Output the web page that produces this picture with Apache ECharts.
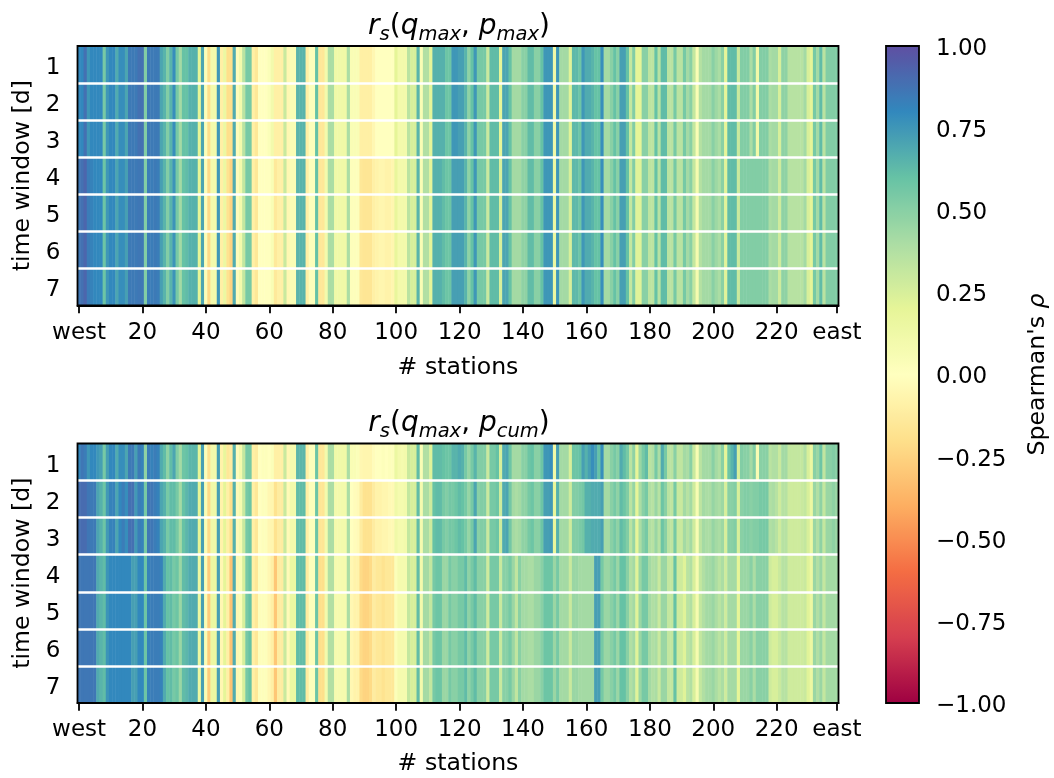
<!DOCTYPE html>
<html><head><meta charset="utf-8">
<script src="https://cdn.jsdelivr.net/npm/echarts@6/dist/echarts.min.js"></script>
<style>html,body{margin:0;padding:0;background:#fff}#c{width:1054px;height:778px}</style>
</head><body><div id="c"></div>
<script>
const timeWindows = ['1','2','3','4','5','6','7'];
const tickStations = ['west','20','40','60','80','100','120','140','160','180','200','220','east'];
const colorStops = ['#9e0142','#d53e4f','#f46d43','#fdae61','#fee08b','#ffffbf','#e6f598','#abdda4','#66c2a5','#3288bd','#5e4fa2'];

// upper panel, windows 1-3
const topEarly = [
.8,.8,.88,.75,.8,.8,.8,.8,.55,.75,
.8,.8,.68,.78,.78,.7,.85,.85,.85,.88,
.88,.52,.85,.85,.85,.85,.7,.65,.52,.65,
.78,.55,.42,.6,.6,.66,.66,.66,.2,.7,
.03,-.2,.1,.1,.75,-.1,.15,-.2,-.2,.68,
-.02,.1,.35,.55,.55,-.1,-.15,0,0,0,
.03,.1,-.1,-.1,-.1,.3,-.05,.05,.05,.65,
.65,.65,-.1,.02,.02,.6,-.15,-.15,.1,.4,
.4,.12,.12,.12,.12,.4,.05,.05,.05,-.1,
-.1,-.1,-.1,-.05,0,0,0,0,0,0,
.2,.1,.1,.1,.35,.25,.25,.65,.05,.38,
.38,.2,.66,.66,.66,.66,.58,.58,.75,.75,
.72,.72,.65,.48,.6,.75,.55,.55,.55,.3,
.62,.62,.62,.2,.7,.7,.6,.42,.42,.42,
.5,.5,.62,.62,.5,.5,.6,.75,.75,.75,
.12,.75,.42,.42,.42,.22,.63,.63,.58,.75,
.68,.68,.65,.6,.6,.78,.42,.42,.5,.6,
.5,.72,.72,.6,.32,.52,.2,.2,.5,.5,
.34,.34,.6,.36,.62,.62,.35,.35,.55,.35,
.35,.55,.42,.5,.32,.05,.37,.42,.42,.42,
.5,.44,.4,.5,.2,.62,.62,.62,.3,.52,
.52,.52,.4,.52,.12,.52,.52,.52,.4,.42,
.42,.25,.48,.48,.36,.36,.36,.36,.36,.42,
.25,.2,.55,.42,.62,.35,.52,.52,.52,.52];

// upper panel, windows 4-7
const topLate = [
.86,.88,.92,.84,.82,.8,.8,.8,.58,.75,
.8,.8,.7,.78,.78,.72,.85,.85,.85,.86,
.86,.52,.84,.84,.85,.84,.72,.65,.52,.65,
.76,.55,.42,.6,.62,.66,.66,.66,.2,.7,
.03,-.22,.1,.1,.75,-.1,.15,-.18,-.25,.68,
-.02,.1,.32,.55,.55,-.1,-.15,0,0,0,
.0,.05,-.14,-.1,-.1,.3,-.05,.05,.05,.65,
.65,.65,-.1,.02,.02,.6,-.15,-.15,.1,.4,
.4,.12,.12,.12,.12,.4,.02,.02,.02,-.15,
-.16,-.16,-.16,-.1,-.08,-.06,-.06,-.08,-.08,-.06,
.18,.1,.1,.1,.35,.25,.25,.65,.05,.38,
.38,.2,.66,.66,.66,.62,.58,.58,.72,.72,
.72,.72,.65,.48,.6,.75,.55,.55,.55,.3,
.62,.62,.62,.25,.7,.7,.6,.42,.42,.42,
.48,.48,.62,.62,.5,.5,.6,.75,.75,.75,
.15,.75,.42,.42,.42,.25,.63,.63,.58,.75,
.68,.68,.65,.6,.6,.78,.42,.42,.5,.6,
.5,.72,.72,.6,.32,.52,.22,.22,.5,.5,
.34,.34,.6,.36,.62,.62,.35,.35,.55,.35,
.35,.55,.42,.5,.32,.08,.37,.42,.42,.42,
.5,.44,.4,.5,.22,.62,.62,.62,.3,.52,
.52,.52,.52,.52,.52,.52,.52,.52,.4,.42,
.42,.28,.48,.48,.36,.36,.36,.36,.36,.42,
.25,.2,.55,.42,.62,.35,.52,.52,.52,.52];

// lower panel, window 1
const bottomFirst = [
.8,.86,.84,.75,.8,.8,.75,.72,.55,.72,
.8,.8,.68,.78,.78,.7,.85,.85,.72,.85,
.82,.48,.84,.82,.84,.82,.68,.62,.48,.62,
.7,.52,.42,.58,.6,.64,.64,.64,.2,.72,
.03,-.18,.1,.1,.72,-.08,.18,-.15,-.12,.66,
-.02,.1,.32,.55,.55,-.1,-.12,0,.02,.02,
.0,.03,-.1,-.1,-.1,.3,-.05,.08,.08,.64,
.64,.64,-.1,.02,.02,.58,-.15,-.15,.1,.4,
.4,.12,.12,.12,.12,.4,.05,.05,.03,-.05,
-.06,-.06,-.06,-.02,0,0,.02,0,.02,.02,
.15,.1,.08,.1,.3,.25,.25,.62,.05,.38,
.38,.22,.62,.62,.62,.6,.58,.58,.65,.65,
.68,.66,.55,.46,.55,.65,.52,.52,.52,.3,
.55,.55,.6,.25,.68,.7,.58,.42,.42,.42,
.5,.5,.58,.6,.5,.5,.58,.75,.75,.78,
.12,.72,.42,.42,.42,.25,.58,.58,.6,.72,
.66,.72,.78,.72,.6,.78,.42,.42,.5,.55,
.5,.68,.62,.55,.35,.48,.2,.45,.55,.62,
.35,.38,.55,.4,.68,.55,.35,.35,.5,.33,
.33,.42,.4,.5,.3,.06,.35,.42,.42,.42,
.5,.42,.38,.5,.2,.58,.65,.72,.25,.52,
.5,.5,.42,.52,.06,.5,.5,.5,.35,.38,
.38,.3,.42,.42,.32,.32,.32,.32,.32,.38,
.25,.15,.5,.45,.58,.33,.5,.5,.52,.5];

// lower panel, windows 2-3
const bottomMid = [
.88,.9,.9,.86,.85,.85,.7,.66,.58,.74,
.82,.82,.7,.8,.84,.78,.88,.88,.74,.84,
.82,.55,.86,.86,.84,.82,.7,.66,.55,.62,
.62,.55,.42,.6,.64,.68,.68,.68,.2,.72,
.05,-.22,.12,.12,.72,-.08,.2,-.1,-.2,.66,
-.03,.08,.3,.55,.58,-.1,-.15,0,.02,.02,
-.05,-.06,-.18,-.12,-.12,.3,-.03,.1,.1,.62,
.62,.62,-.1,.02,.02,.58,-.16,-.16,.1,.4,
.4,.1,.1,.1,.1,.4,.0,-.02,-.03,-.12,
-.18,-.18,-.18,-.12,-.08,-.08,-.06,-.06,-.04,-.04,
.12,.08,.08,.1,.32,.25,.25,.62,.08,.4,
.4,.28,.6,.62,.62,.55,.52,.56,.55,.58,
.62,.6,.55,.46,.55,.7,.5,.52,.52,.3,
.55,.55,.58,.28,.68,.7,.56,.42,.4,.42,
.48,.48,.55,.58,.5,.5,.58,.72,.72,.74,
.18,.66,.42,.42,.42,.28,.52,.52,.54,.56,
.66,.66,.68,.68,.68,.72,.42,.42,.5,.55,
.48,.62,.58,.52,.35,.46,.2,.4,.5,.55,
.38,.36,.45,.36,.58,.5,.35,.33,.55,.3,
.3,.42,.36,.42,.28,.06,.34,.42,.4,.4,
.46,.42,.4,.44,.25,.5,.5,.52,.25,.5,
.52,.52,.5,.52,.52,.55,.55,.55,.38,.4,
.36,.28,.36,.36,.28,.28,.28,.28,.3,.32,
.25,.15,.45,.38,.48,.32,.45,.45,.48,.45];

// lower panel, windows 4-7
const bottomLate = [
.86,.86,.86,.86,.86,.86,.68,.65,.62,.76,
.8,.8,.8,.8,.8,.8,.8,.72,.72,.8,
.8,.58,.82,.84,.84,.84,.82,.68,.6,.62,
.55,.58,.45,.62,.64,.68,.68,.68,.15,.72,
.05,-.28,.15,.15,.72,-.05,.2,-.1,-.32,.68,
-.05,.05,.25,.55,.6,-.1,-.15,.02,.02,.02,
-.05,-.1,-.3,-.12,-.12,.3,-.03,.15,.15,.62,
.62,.62,-.12,.02,.02,.58,-.2,-.2,.1,.38,
.38,.08,.08,.08,.08,.4,-.05,-.08,-.08,-.22,
-.25,-.25,-.22,-.12,-.15,-.15,-.18,-.15,-.15,-.15,
.03,.08,.08,.08,.32,.25,.25,.62,.1,.42,
.42,.32,.55,.58,.58,.45,.45,.55,.5,.5,
.55,.55,.62,.48,.55,.62,.5,.5,.5,.28,
.55,.55,.55,.3,.5,.5,.55,.45,.33,.5,
.42,.42,.4,.4,.45,.45,.5,.58,.58,.58,
.45,.55,.42,.42,.42,.3,.45,.45,.42,.42,
.42,.42,.42,.72,.72,.55,.45,.45,.5,.55,
.45,.6,.6,.5,.38,.42,.22,.45,.55,.55,
.42,.38,.4,.3,.45,.45,.32,.32,.6,.28,
.28,.22,.35,.38,.25,.08,.32,.38,.42,.42,
.45,.4,.35,.4,.28,.42,.42,.42,.2,.45,
.45,.45,.5,.4,.5,.5,.5,.5,.28,.25,
.25,.3,.36,.36,.28,.28,.28,.28,.28,.3,
.22,.15,.45,.38,.45,.32,.42,.42,.42,.42];

const topRows = [topEarly,topEarly,topEarly,topLate,topLate,topLate,topLate];
const bottomRows = [bottomFirst,bottomMid,bottomMid,bottomLate,bottomLate,bottomLate,bottomLate];

const stations = topEarly.map((_, i) => {
  if (i === 0) return 'west';
  if (i === topEarly.length - 1) return 'east';
  return String(i);
});
const cells = rows => rows.flatMap((r, y) => r.map((v, x) => [x, y, v]));
const isTick = i => tickStations.includes(stations[i]);

const FONT = '"DejaVu Sans"';
const mathTitle = sub2 => '{i|r}{s|s}{n|(}{i|q}{s|max}{n|, }{i|p}{s|' + sub2 + '}{n|)}';
const titleRich = {
  i:{fontFamily:FONT,fontStyle:'italic',fontWeight:'normal',fontSize:28,color:'#000',lineHeight:36,verticalAlign:'middle'},
  n:{fontFamily:FONT,fontWeight:'normal',fontSize:28,color:'#000',lineHeight:36,verticalAlign:'middle'},
  s:{fontFamily:FONT,fontStyle:'italic',fontWeight:'normal',fontSize:19.5,color:'#000',lineHeight:36,verticalAlign:'bottom'}
};
const tickStyle = {color:'#000',fontFamily:FONT,fontSize:23};
const nameStyle = {color:'#000',fontFamily:FONT,fontSize:23.6};
const panelGrid = (top) => ({left:77.5,top,width:761,height:259.5,containLabel:false});

function xAxisFor(gridIndex, nameGap){
  return {type:'category',gridIndex,data:stations,z:5,
    name:'# stations',nameLocation:'middle',nameGap,
    nameTextStyle:nameStyle,
    axisLine:{show:true,lineStyle:{color:'#000',width:1.8}},
    axisTick:{show:true,alignWithLabel:true,length:7.8,interval:i=>isTick(i),lineStyle:{color:'#000',width:1.8}},
    axisLabel:Object.assign({interval:i=>isTick(i),margin:16,hideOverlap:false,showMinLabel:true,showMaxLabel:true},tickStyle),
    splitLine:{show:false}};
}
function yAxisFor(gridIndex){
  return {type:'category',gridIndex,data:timeWindows,inverse:true,z:5,
    name:'time window [d]',nameLocation:'middle',nameGap:39,nameRotate:90,
    nameTextStyle:nameStyle,
    axisLine:{show:false},axisTick:{show:false},
    axisLabel:{margin:17,interval:0,formatter:v=>'{t|'+v+'}',
      rich:{t:Object.assign({padding:[7,0,0,0]},tickStyle)}},
    splitLine:{show:true,showMinLine:false,showMaxLine:false,interval:0,lineStyle:{color:'#fff',width:2.6}}};
}
const frame = (x,y,w,h) => ({type:'rect',shape:{x,y,width:w,height:h},z:100,silent:true,
  style:{fill:'none',stroke:'#000',lineWidth:1.8}});

const chart = echarts.init(document.getElementById('c'),null,{renderer:'canvas'});
chart.setOption({
  animation:false,backgroundColor:'#fff',
  title:[
    {text:mathTitle('max'),left:459,top:9,textAlign:'center',padding:0,textStyle:{fontWeight:'normal',rich:titleRich}},
    {text:mathTitle('cum'),left:459,top:406,textAlign:'center',padding:0,textStyle:{fontWeight:'normal',rich:titleRich}}
  ],
  grid:[panelGrid(46),panelGrid(443.5),{left:886,top:46,width:33,height:657}],
  xAxis:[xAxisFor(0,50),xAxisFor(1,49),{type:'value',gridIndex:2,show:false,min:0,max:1}],
  yAxis:[yAxisFor(0),yAxisFor(1),{type:'value',gridIndex:2,min:-1,max:1,interval:0.25,position:'right',
    name:"{n|Spearman's }{i|\u03c1}",nameLocation:'middle',nameRotate:90,nameGap:107,
    nameTextStyle:Object.assign({rich:{n:nameStyle,i:Object.assign({fontStyle:'italic'},nameStyle)}},nameStyle),
    axisLine:{show:false},
    axisTick:{show:true,length:7.8,lineStyle:{color:'#000',width:1.8}},
    splitLine:{show:false},
    axisLabel:{margin:17,formatter:v=>'{t|'+(v<0?'\u2212':'')+Math.abs(v).toFixed(2)+'}',
      rich:{t:Object.assign({padding:[6,0,0,0]},tickStyle)}}}],
  visualMap:{type:'continuous',seriesIndex:[0,1],min:-1,max:1,calculable:false,hoverLink:false,
    left:886,top:46,itemWidth:33,itemHeight:657,padding:0,text:['',''],textGap:0,
    inRange:{color:colorStops}},
  series:[
    {type:'heatmap',xAxisIndex:0,yAxisIndex:0,data:cells(topRows),progressive:0,silent:true},
    {type:'heatmap',xAxisIndex:1,yAxisIndex:1,data:cells(bottomRows),progressive:0,silent:true}
  ],
  graphic:[frame(77.5,46,761,259.5),frame(77.5,443.5,761,259.5),frame(886,46,33,657)]
});
</script></body></html>
